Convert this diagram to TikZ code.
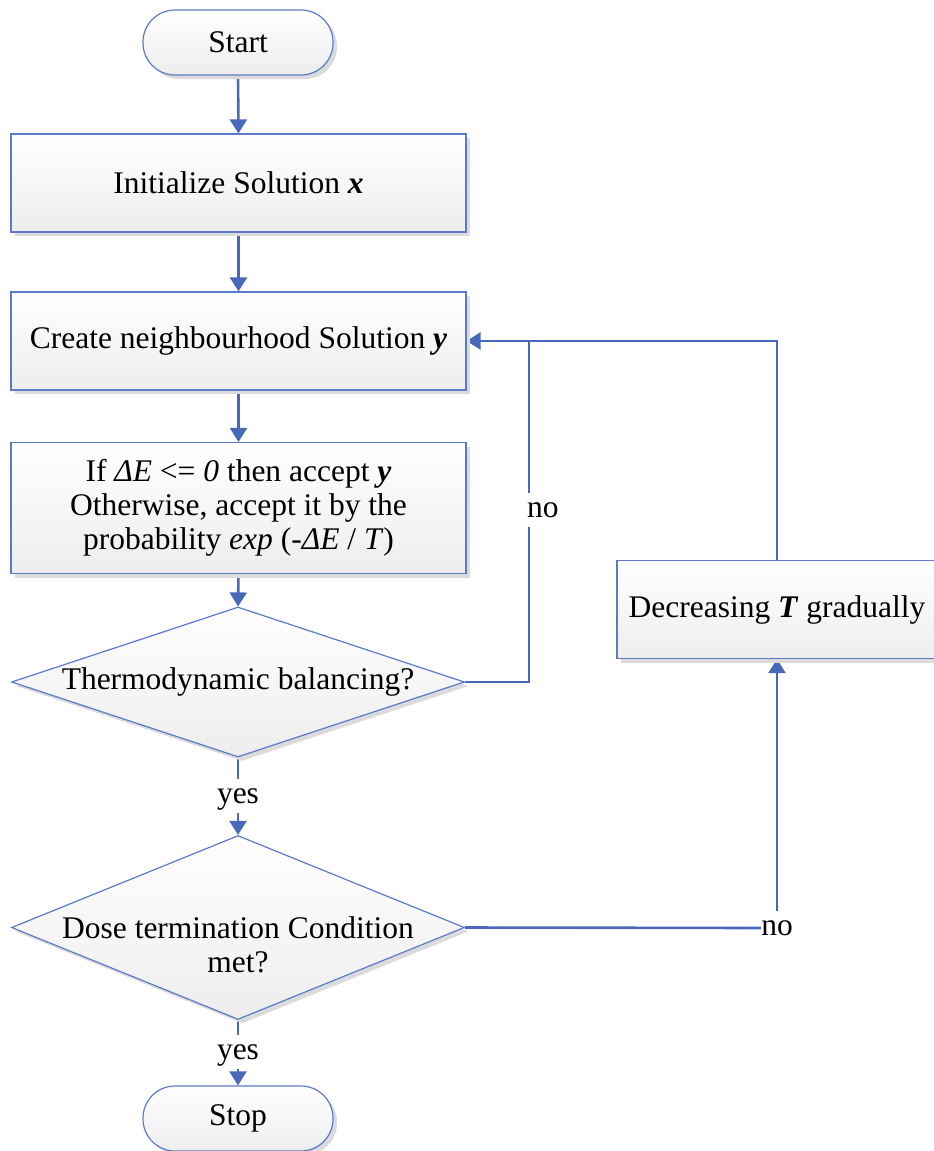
\documentclass[tikz,border=0pt]{standalone}
\usepackage{fontspec}
\setmainfont{Liberation Serif}
\usetikzlibrary{shapes.geometric,shadows,arrows.meta}
\definecolor{flowline}{RGB}{72,104,186}
\definecolor{flowedge}{RGB}{92,122,202}
\pgfdeclarelayer{background}
\pgfsetlayers{background,main}
\begin{document}
\begin{tikzpicture}[x=1pt,y=-1pt,
  font=\fontsize{31.5}{34}\selectfont,
  shell/.style={draw=flowedge, line width=1.2pt, top color=white, bottom color=black!7,
    drop shadow={shadow xshift=4pt, shadow yshift=-4pt, fill=black!14, opacity=1},
    inner sep=0pt},
  procbox/.style={shell, rectangle, minimum width=455pt, align=center},
  terminal/.style={shell, rectangle, rounded corners=32pt, minimum width=190pt, minimum height=65pt},
  decision/.style={shell, diamond, minimum width=453pt},
  flow/.style={draw=flowline, line width=2.6pt},
  flowarrow/.style={flow, -{Triangle[width=17pt,length=14pt]}},
  tag/.style={fill=white, inner sep=0pt, text height=24pt, text depth=10pt}
]
\useasboundingbox (0,0) rectangle (934,1151);

% main column
\node[terminal] (start) at (238,42.5) {Start};
\node[procbox, minimum height=98pt] (init) at (238.5,183) {Initialize Solution \textbf{\textit{x}}};
\node[procbox, minimum height=98pt] (create) at (238.5,341) {Create neighbourhood Solution \textbf{\textit{y}}};
\node[procbox, minimum height=131pt] (accept) at (238.5,508)
  {If \textit{ΔE} <= \textit{0} then accept \textbf{\textit{y}}\\
   Otherwise, accept it by the\\
   probability \textit{exp} (-\textit{ΔE} / \textit{T})};
\node[decision, aspect=3.02, minimum height=150pt] (d1) at (238,682) {\makebox[250pt]{Thermodynamic balancing?}};
\node[decision, aspect=2.46, minimum height=184pt] (d2) at (238,927.5) {};
\node[align=center, inner sep=0pt] (d2text) at (238,944.5) {Dose termination Condition\\met?};
\node[terminal] (stop) at (238,1118.5) {Stop};

% cooling step
\node[procbox, minimum width=320pt, minimum height=98pt] (dec) at (777,609.5) {Decreasing \textbf{\textit{T}} gradually};

% branch labels
\coordinate (j) at (529,341);
\node[tag, anchor=west] (no1) at (527,510) {no};
\node[tag] (no2) at (777,928) {no};
\node[tag] (yes1) at (238,796) {yes};
\node[tag] (yes2) at (238,1052) {yes};

% connectors
\begin{pgfonlayer}{background}
\draw[flowarrow] (start.south) -- (init.north);
\draw[flowarrow] (init.south) -- (create.north);
\draw[flowarrow] (create.south) -- (accept.north);
\draw[flowarrow] (accept.south) -- (d1.north);
\draw[flow] (d1.south) -- (yes1.north);
\draw[flowarrow] (yes1.south) -- (d2.north);
\draw[flow] (d2.south) -- (yes2.north);
\draw[flowarrow] (yes2.south) -- (stop.north);
\draw[flowarrow] (d1.east) -| (j) -- (create.east);
\draw[flow] (dec.north) |- (j);
\draw[flow] (d2.east) -- (no2.west);
\draw[flowarrow] (no2.north) -- (dec.south);
\end{pgfonlayer}
\end{tikzpicture}
\end{document}
